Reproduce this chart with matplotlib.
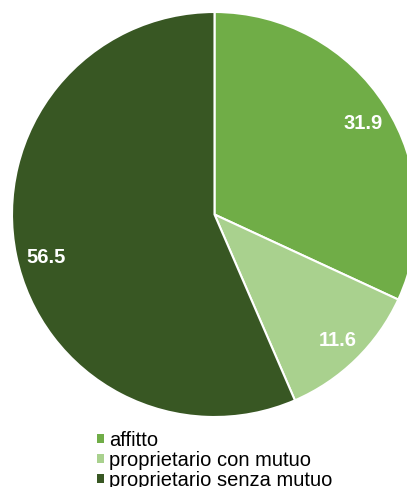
import numpy as np
import matplotlib.pyplot as plt
from matplotlib.patches import Patch

labels = ["affitto", "proprietario con mutuo", "proprietario senza mutuo"]
values = [31.9, 11.6, 56.5]
colors = ["#70AD47", "#A9D18E", "#385723"]
label_dist = [0.86, 0.87, 0.86]
label_shift = [-1.0, 0.0, 2.7]   # degrees, to follow the original label spots

W, H = 407, 487
fig = plt.figure(figsize=(W / 100, H / 100), dpi=100)
ax = fig.add_axes([0, 0, 1, 1])

cx, cy, r = 214.5, H - 214.5, 202.5
wedges, _ = ax.pie(values, colors=colors, startangle=90, counterclock=False,
                   center=(cx, cy), radius=r, frame=True,
                   wedgeprops=dict(edgecolor="white", linewidth=1.5))
ax.set_xlim(0, W)
ax.set_ylim(0, H)
ax.set_aspect("equal")
ax.axis("off")

for w, v, d, s in zip(wedges, values, label_dist, label_shift):
    ang = np.deg2rad((w.theta1 + w.theta2) / 2 + s)
    ax.text(cx + r * d * np.cos(ang), cy + r * d * np.sin(ang), f"{v:.1f}",
            ha="center", va="center", color="white",
            fontweight="bold", family="Liberation Sans", fontsize=14.5)

handles = [Patch(facecolor=c, edgecolor="none") for c in colors]
fig.legend(handles, labels, loc="upper left", bbox_to_anchor=(97 / W, 1 - 431 / H),
           frameon=False, handlelength=0.33, handleheight=0.33,
           handletextpad=0.25, labelspacing=0.05, borderpad=0, borderaxespad=0,
           prop=dict(family="Liberation Sans", size=14.5))

fig.savefig("out.png", dpi=100)
